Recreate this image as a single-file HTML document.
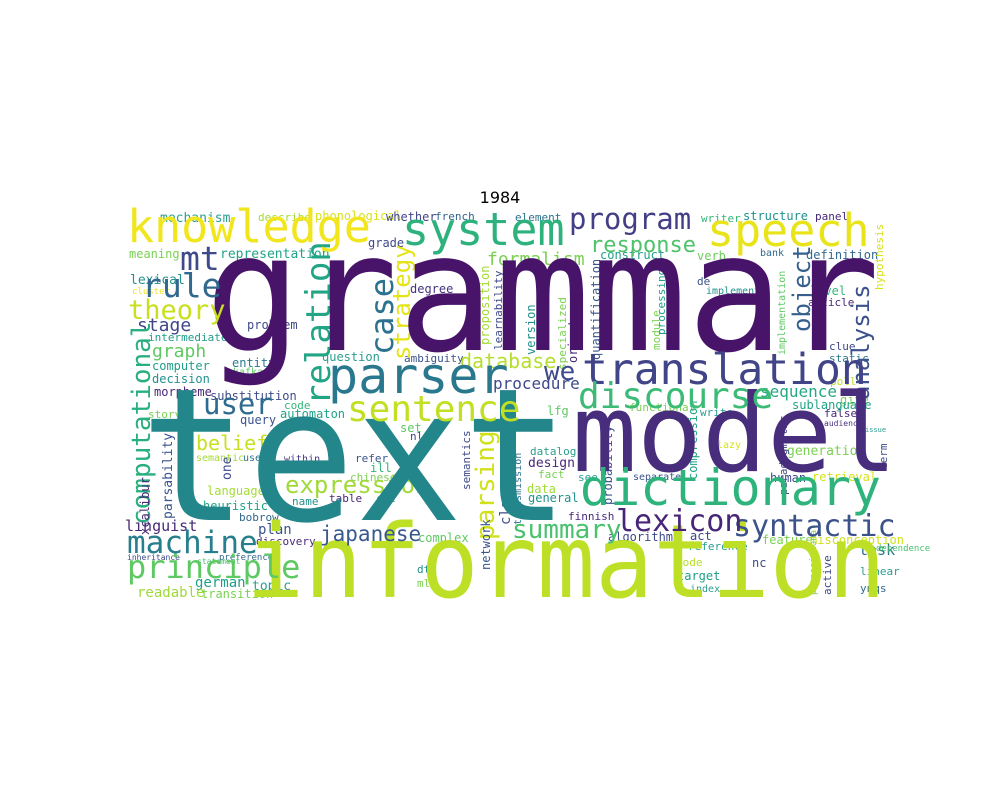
<!DOCTYPE html>
<html><head><meta charset="utf-8"><style>
html,body{margin:0;padding:0;background:#fff;width:1000px;height:800px;overflow:hidden}
svg text{font-family:"DejaVu Sans Mono","Liberation Mono",monospace}
</style></head><body>
<svg width="1000" height="800" xmlns="http://www.w3.org/2000/svg">
<text x="500" y="203" text-anchor="middle" style="font-family:'DejaVu Sans','Liberation Sans',sans-serif" font-size="16" fill="#000">1984</text>
<g>
<text x="160" y="222" font-size="13" fill="#2a9d8f">mechanism</text>
<text x="258" y="221" font-size="11" fill="#a5db36">describe</text>
<text x="315" y="220" font-size="12" fill="#d8e219">phonological</text>
<text x="386" y="221" font-size="12" fill="#404688">whether</text>
<text x="435" y="220" font-size="11" fill="#33638d">french</text>
<text x="515" y="221" font-size="11" fill="#2c728e">element</text>
<text x="701" y="222" font-size="11" fill="#35b779">writer</text>
<text x="743" y="220" font-size="12" fill="#21918c">structure</text>
<text x="815" y="220" font-size="11" fill="#482878">panel</text>
<text x="129" y="258" font-size="12" fill="#7ad151">meaning</text>
<text x="220" y="258" font-size="13" fill="#20a386">representation</text>
<text x="368" y="247" font-size="12" fill="#3e4989">grade</text>
<text x="600" y="259" font-size="12" fill="#1f9e89">construct</text>
<text x="697" y="260" font-size="12" fill="#6ccd5a">verb</text>
<text x="760" y="256" font-size="10" fill="#31688e">bank</text>
<text x="806" y="259" font-size="12" fill="#31688e">definition</text>
<text x="130" y="284" font-size="13" fill="#21918c">lexical</text>
<text x="132" y="294" font-size="9" fill="#f1e51d">cluster</text>
<text x="410" y="293" font-size="12" fill="#46327e">degree</text>
<text x="810" y="295" font-size="12" fill="#35b779">level</text>
<text x="808" y="306" font-size="11" fill="#482878">article</text>
<text x="706" y="294" font-size="10" fill="#21918c">implement</text>
<text x="697" y="285" font-size="11" fill="#3a548c">de</text>
<text x="137" y="331" font-size="18" fill="#404688">stage</text>
<text x="247" y="329" font-size="12" fill="#3e4989">problem</text>
<text x="148" y="341" font-size="11" fill="#1f9e89">intermediate</text>
<text x="152" y="357" font-size="18" fill="#5ec962">graph</text>
<text x="232" y="367" font-size="12" fill="#2a788e">entity</text>
<text x="233" y="375" font-size="10" fill="#5ec962">kafka</text>
<text x="152" y="370" font-size="12" fill="#1f9e89">computer</text>
<text x="152" y="383" font-size="12" fill="#21918c">decision</text>
<text x="154" y="396" font-size="12" fill="#482878">morpheme</text>
<text x="210" y="400" font-size="12" fill="#3e4a89">substitution</text>
<text x="322" y="361" font-size="12" fill="#2a9d8f">question</text>
<text x="404" y="362" font-size="11" fill="#3a548c">ambiguity</text>
<text x="460" y="368" font-size="20" fill="#b5de2b">database</text>
<text x="493" y="389" font-size="16" fill="#3e4989">procedure</text>
<text x="487" y="265" font-size="18" fill="#7ad151">formalism</text>
<text x="629" y="411" font-size="11" fill="#7ad151">functional</text>
<text x="830" y="385" font-size="11" fill="#bddf26">poll</text>
<text x="829" y="350" font-size="11" fill="#404688">clue</text>
<text x="829" y="362" font-size="11" fill="#2a788e">static</text>
<text x="840" y="404" font-size="12" fill="#7ad151">give</text>
<text x="700" y="416" font-size="11" fill="#2a9d8f">write</text>
<text x="760" y="397" font-size="16" fill="#26a784">sequence</text>
<text x="148" y="418" font-size="11" fill="#7ad151">story</text>
<text x="240" y="424" font-size="12" fill="#3a548c">query</text>
<text x="280" y="418" font-size="12" fill="#20a386">automaton</text>
<text x="284" y="409" font-size="11" fill="#35b779">code</text>
<text x="196" y="450" font-size="20" fill="#c8e020">belief</text>
<text x="196" y="461" font-size="10" fill="#a5db36">semantic</text>
<text x="243" y="461" font-size="10" fill="#2c728e">use</text>
<text x="284" y="462" font-size="10" fill="#46327e">within</text>
<text x="400" y="432" font-size="12" fill="#5ec962">set</text>
<text x="410" y="440" font-size="11" fill="#3e4a89">nl</text>
<text x="355" y="462" font-size="11" fill="#3a548c">refer</text>
<text x="370" y="472" font-size="12" fill="#35b779">ill</text>
<text x="350" y="481" font-size="11" fill="#7ad151">chinese</text>
<text x="285" y="493" font-size="24" fill="#a0da39">expression</text>
<text x="207" y="495" font-size="12" fill="#a5db36">language</text>
<text x="203" y="510" font-size="12" fill="#20a386">heuristic</text>
<text x="292" y="505" font-size="11" fill="#21918c">name</text>
<text x="329" y="502" font-size="11" fill="#482878">table</text>
<text x="376" y="502" font-size="11" fill="#1f9e89">cfl</text>
<text x="125" y="531" font-size="15" fill="#482878">linguist</text>
<text x="239" y="521" font-size="11" fill="#31688e">bobrow</text>
<text x="258" y="534" font-size="14" fill="#3a548c">plan</text>
<text x="256" y="545" font-size="11" fill="#482878">discovery</text>
<text x="219" y="560" font-size="9" fill="#31688e">preference</text>
<text x="127" y="560" font-size="8" fill="#3e4989">inheritance</text>
<text x="197" y="564" font-size="8" fill="#48c16e">statement</text>
<text x="195" y="587" font-size="14" fill="#1f9e89">german</text>
<text x="252" y="590" font-size="13" fill="#2a9d8f">topic</text>
<text x="137" y="597" font-size="14" fill="#a0da39">readable</text>
<text x="201" y="598" font-size="12" fill="#7ad151">transition</text>
<text x="418" y="542" font-size="12" fill="#5ec962">complex</text>
<text x="417" y="573" font-size="11" fill="#21918c">dtl</text>
<text x="417" y="587" font-size="11" fill="#7ad151">mlr</text>
<text x="608" y="541" font-size="12" fill="#3e4989">algorithm</text>
<text x="690" y="540" font-size="12" fill="#404688">act</text>
<text x="688" y="550" font-size="11" fill="#2a9d8f">reference</text>
<text x="752" y="567" font-size="12" fill="#3e4989">nc</text>
<text x="676" y="566" font-size="11" fill="#b5de2b">mode</text>
<text x="677" y="580" font-size="12" fill="#1f9e89">target</text>
<text x="690" y="592" font-size="10" fill="#2a9d8f">index</text>
<text x="762" y="544" font-size="12" fill="#7ad151">feature</text>
<text x="810" y="544" font-size="12" fill="#d0e11c">misconception</text>
<text x="859" y="555" font-size="15" fill="#2c728e">task</text>
<text x="860" y="575" font-size="11" fill="#2a9d8f">linear</text>
<text x="860" y="592" font-size="11" fill="#31688e">ynqs</text>
<text x="530" y="455" font-size="11" fill="#2a9d8f">datalog</text>
<text x="528" y="467" font-size="13" fill="#482878">design</text>
<text x="538" y="478" font-size="11" fill="#7ad151">fact</text>
<text x="527" y="493" font-size="12" fill="#a0da39">data</text>
<text x="528" y="502" font-size="12" fill="#21918c">general</text>
<text x="568" y="520" font-size="11" fill="#482878">finnish</text>
<text x="547" y="415" font-size="12" fill="#5ec962">lfg</text>
<text x="578" y="481" font-size="11" fill="#2a9d8f">see</text>
<text x="633" y="480" font-size="10" fill="#3a548c">separate</text>
<text x="770" y="482" font-size="12" fill="#3e4989">human</text>
<text x="812" y="481" font-size="12" fill="#d8e219">retrieval</text>
<text x="787" y="455" font-size="13" fill="#7ad151">generation</text>
<text x="824" y="417" font-size="11" fill="#482878">false</text>
<text x="824" y="426" font-size="8" fill="#46327e">audience</text>
<text x="792" y="409" font-size="12" fill="#20a386">sublanguage</text>
<text x="717" y="448" font-size="10" fill="#d8e219">lazy</text>
<text x="865" y="432" font-size="7" fill="#2a9d8f">issue</text>
<text x="876" y="551" font-size="9" fill="#48c16e">dependence</text>
</g>
<text transform="translate(330,405) rotate(-90)" font-size="34" fill="#21a585">relation</text>
<text transform="translate(393,355) rotate(-90)" font-size="32" fill="#2c728e">case</text>
<text transform="translate(410,360) rotate(-90)" font-size="24" fill="#e5e419">strategy</text>
<text transform="translate(150,525) rotate(-90)" font-size="26" fill="#29af7f">computational</text>
<text transform="translate(869,400) rotate(-90)" font-size="24" fill="#3b528b">analysis</text>
<text transform="translate(810,332) rotate(-90)" font-size="24" fill="#355f8d">object</text>
<text transform="translate(494,540) rotate(-90)" font-size="26" fill="#d0e11c">parsing</text>
<text transform="translate(172,519) rotate(-90)" font-size="13" fill="#3a548c">parsability</text>
<text transform="translate(149,535) rotate(-90)" font-size="12" fill="#482878">xcalibur</text>
<text transform="translate(231,480) rotate(-90)" font-size="13" fill="#3e4989">one</text>
<text transform="translate(470,490) rotate(-90)" font-size="11" fill="#3e4989">semantics</text>
<text transform="translate(510,525) rotate(-90)" font-size="14" fill="#3e4989">class</text>
<text transform="translate(490,570) rotate(-90)" font-size="12" fill="#3a548c">network</text>
<text transform="translate(521,525) rotate(-90)" font-size="10" fill="#2c728e">transmission</text>
<text transform="translate(535,355) rotate(-90)" font-size="12" fill="#21918c">version</text>
<text transform="translate(577,363) rotate(-90)" font-size="12" fill="#482878">orient</text>
<text transform="translate(600,360) rotate(-90)" font-size="12" fill="#3a548c">quantification</text>
<text transform="translate(489,345) rotate(-90)" font-size="12" fill="#a5db36">proposition</text>
<text transform="translate(502,350) rotate(-90)" font-size="11" fill="#3e4989">learnability</text>
<text transform="translate(566,370) rotate(-90)" font-size="11" fill="#7ad151">specialized</text>
<text transform="translate(660,350) rotate(-90)" font-size="11" fill="#7ad151">module</text>
<text transform="translate(697,480) rotate(-90)" font-size="12" fill="#20a386">compression</text>
<text transform="translate(612,505) rotate(-90)" font-size="12" fill="#3a548c">probability</text>
<text transform="translate(787,495) rotate(-90)" font-size="11" fill="#3e4989">paradigmatic</text>
<text transform="translate(785,355) rotate(-90)" font-size="10" fill="#5ec962">implementation</text>
<text transform="translate(665,335) rotate(-90)" font-size="11" fill="#1f9e89">processing</text>
<text transform="translate(831,595) rotate(-90)" font-size="11" fill="#3e4989">active</text>
<text transform="translate(816,595) rotate(-90)" font-size="9" fill="#7ad151">propositional</text>
<text transform="translate(883,290) rotate(-90)" font-size="11" fill="#d8e219">hypothesis</text>
<text transform="translate(887,470) rotate(-90)" font-size="11" fill="#3e4989">term</text>
<text x="140" y="520" font-size="185" fill="#23868b" textLength="430" lengthAdjust="spacingAndGlyphs">text</text>
<text x="205" y="350" font-size="164" fill="#48146a" textLength="675" lengthAdjust="spacingAndGlyphs">grammar</text>
<text x="246" y="597" font-size="102" fill="#bddf26" textLength="640" lengthAdjust="spacingAndGlyphs">information</text>
<text x="572" y="471" font-size="108" fill="#472d7b">model</text>
<text x="580" y="505" font-size="50" fill="#2eb37c">dictionary</text>
<text x="127" y="242" font-size="45" fill="#f1e51d">knowledge</text>
<text x="402" y="245" font-size="45" fill="#2db27d">system</text>
<text x="707" y="246" font-size="45" fill="#e8e419">speech</text>
<text x="569" y="229" font-size="29" fill="#433e85">program</text>
<text x="590" y="252" font-size="22" fill="#4ec36b">response</text>
<text x="328" y="393" font-size="50" fill="#2a788e">parser</text>
<text x="582" y="384" font-size="43" fill="#414487">translation</text>
<text x="347" y="421" font-size="36" fill="#c2df23">sentence</text>
<text x="578" y="408" font-size="36" fill="#3bbb75">discourse</text>
<text x="127" y="578" font-size="32" fill="#5ec962">principle</text>
<text x="127" y="553" font-size="31" fill="#277f8e">machine</text>
<text x="142" y="297" font-size="33" fill="#31688e">rule</text>
<text x="180" y="270" font-size="33" fill="#3e4a89">mt</text>
<text x="128" y="319" font-size="27" fill="#c8e020">theory</text>
<text x="203" y="414" font-size="29" fill="#2f6b8e">user</text>
<text x="544" y="380" font-size="26" fill="#3e4a89">we</text>
<text x="733" y="536" font-size="30" fill="#3b528b">syntactic</text>
<text x="616" y="531" font-size="30" fill="#482677">lexicon</text>
<text x="512" y="538" font-size="26" fill="#4ac16d">summary</text>
<text x="320" y="541" font-size="21" fill="#38598c">japanese</text>
</svg>
</body></html>
